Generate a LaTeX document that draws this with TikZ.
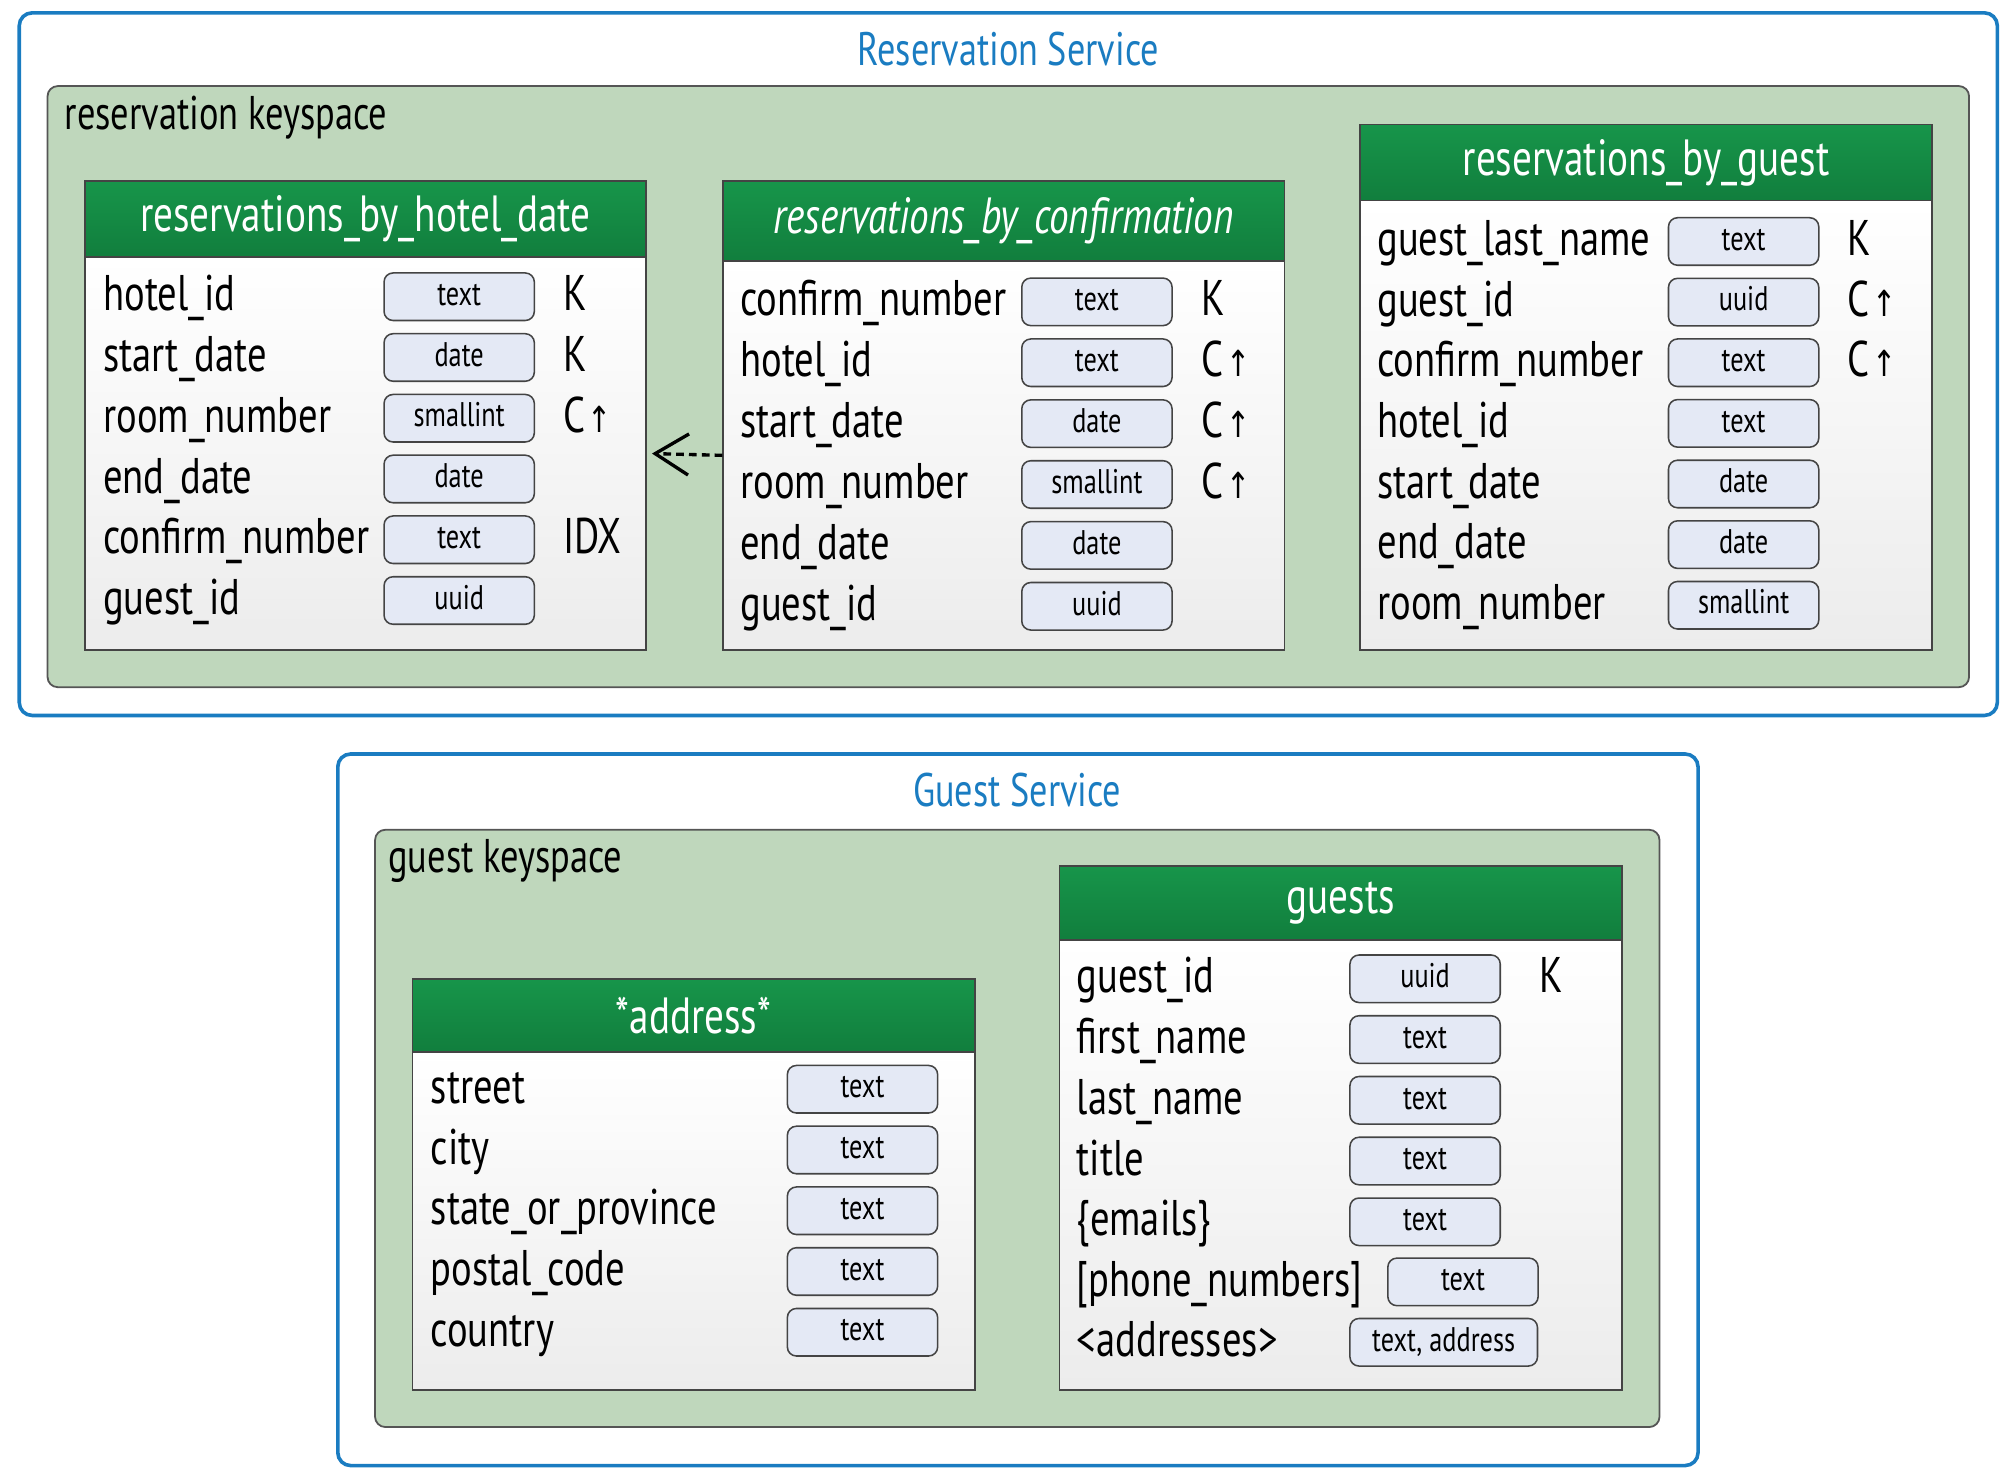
\documentclass[tikz,border=0pt]{standalone}
\usepackage{fontspec}
\setmainfont{PT Sans}[FakeStretch=0.77]
\newfontfamily\symfont{DejaVu Sans}[FakeStretch=0.8]
\usetikzlibrary{fit,arrows.meta}

\definecolor{svcblue}{HTML}{1A7CC1}
\definecolor{ksgreen}{HTML}{BFD7BC}
\definecolor{ksline}{HTML}{555555}
\definecolor{hdrtop}{HTML}{17954A}
\definecolor{hdrbot}{HTML}{117E3D}
\definecolor{frame}{HTML}{444444}
\definecolor{bodybot}{HTML}{ECECEC}
\definecolor{typfill}{HTML}{E4E9F5}

\newcommand\up{\kern1pt{\symfont\fontsize{14}{14}\selectfont ↑}}

\tikzset{
  svc/.style={draw=svcblue, line width=1.4pt, rounded corners=5pt, inner sep=0},
  svctitle/.style={text=svcblue, font=\fontsize{18.3}{20}\selectfont, inner sep=0},
  keyspace/.style={draw=ksline, fill=ksgreen, line width=0.7pt, rounded corners=4pt, inner sep=0},
  kstitle/.style={anchor=base west, font=\fontsize{18.4}{20}\selectfont, inner sep=0},
  tbody/.style={draw=frame, line width=0.6pt, top color=white, bottom color=bodybot, inner sep=0},
  thead/.style={draw=frame, line width=0.6pt, top color=hdrtop, bottom color=hdrbot, inner sep=0},
  theadtext/.style={text=white, font=\fontsize{19.8}{22}\selectfont, inner sep=0},
  fld/.style={anchor=base west, font=\fontsize{19.5}{22}\selectfont, inner sep=0},
  typ/.style={draw=frame, fill=typfill, line width=0.6pt, rounded corners=3.5pt,
    minimum width=58.5pt, minimum height=18.5pt, inner sep=0,
    text height=8.8pt, text depth=2pt, font=\fontsize{13.3}{15}\selectfont},
  keytag/.style={anchor=base west, font=\fontsize{19.5}{22}\selectfont, inner sep=0},
  link/.style={dashed, dash pattern=on 3pt off 2pt, line width=1.3pt,
    -{Straight Barb[length=13pt, width=16pt, line width=1.3pt]}},
}

\begin{document}
\begin{tikzpicture}[x=0.5pt, y=-0.5pt]
\useasboundingbox (0,0) rectangle (1568,1153);

% ---------------- Reservation Service ----------------
\node[svc, fit={(15,10)(1555,557)}] (rsvc) {};
\node[svctitle] (rsvct) at (785,38) {Reservation Service};
\node[keyspace, fit={(37,67)(1533,535)}] (rks) {};
\node[kstitle] (rkst) at (50,101) {reservation keyspace};

% reservations_by_hotel_date
\node[tbody, fit={(66,200)(503,506)}] (b1) {};
\node[thead, fit={(66,141)(503,200)}] (h1) {};
\node[theadtext] (h1t) at (h1.center) {reservations\_by\_hotel\_date};
\foreach \f/\t/\k [count=\i] in {hotel\_id/text/K, start\_date/date/K,
    room\_number/smallint/C\up, end\_date/date/{}, confirm\_number/text/IDX,
    guest\_id/uuid/{}} {
  \pgfmathsetmacro\yy{231+47.3*(\i-1)}
  \node[fld] (b1f\i) at (80,\yy+11) {\f};
  \node[typ] (b1t\i) at (357.5,\yy) {\t};
  \node[keytag] (b1k\i) at (438,\yy+11) {\k};
}

% reservations_by_confirmation
\node[tbody, fit={(563,203)(1000,506)}] (b2) {};
\node[thead, fit={(563,141)(1000,203)}] (h2) {};
\node[theadtext] (h2t) at (h2.center) {\itshape reservations\_by\_confirmation};
\foreach \f/\t/\k [count=\i] in {confirm\_number/text/K, hotel\_id/text/C\up,
    start\_date/date/C\up, room\_number/smallint/C\up, end\_date/date/{},
    guest\_id/uuid/{}} {
  \pgfmathsetmacro\yy{235+47.4*(\i-1)}
  \node[fld] (b2f\i) at (576,\yy+11) {\f};
  \node[typ] (b2t\i) at (854,\yy) {\t};
  \node[keytag] (b2k\i) at (935,\yy+11) {\k};
}

% reservations_by_guest
\node[tbody, fit={(1059,156)(1504,506)}] (b3) {};
\node[thead, fit={(1059,97)(1504,156)}] (h3) {};
\node[theadtext] (h3t) at (h3.center) {reservations\_by\_guest};
\foreach \f/\t/\k [count=\i] in {guest\_last\_name/text/K, guest\_id/uuid/C\up,
    confirm\_number/text/C\up, hotel\_id/text/{}, start\_date/date/{},
    end\_date/date/{}, room\_number/smallint/{}} {
  \pgfmathsetmacro\yy{188+47.2*(\i-1)}
  \node[fld] (b3f\i) at (1072,\yy+11) {\f};
  \node[typ] (b3t\i) at (1357.5,\yy) {\t};
  \node[keytag] (b3k\i) at (1438,\yy+11) {\k};
}

% lookup table points back to the main table
\draw[link, shorten >=2pt] (b2.west) -- (b1.east);

% ---------------- Guest Service ----------------
\node[svc, fit={(263,587)(1322,1141)}] (gsvc) {};
\node[svctitle] (gsvct) at (792,615) {Guest Service};
\node[keyspace, fit={(292,646)(1292,1111)}] (gks) {};
\node[kstitle] (gkst) at (302,679) {guest keyspace};

% address user-defined type
\node[tbody, fit={(321,819)(759,1082)}] (b4) {};
\node[thead, fit={(321,762)(759,819)}] (h4) {};
\node[theadtext] (h4t) at (h4.center) {*address*};
\foreach \f/\t [count=\i] in {street/text, city/text, state\_or\_province/text,
    postal\_code/text, country/text} {
  \pgfmathsetmacro\yy{848+47.3*(\i-1)}
  \node[fld] (b4f\i) at (335,\yy+11) {\f};
  \node[typ] (b4t\i) at (671.5,\yy) {\t};
}

% guests
\node[tbody, fit={(825,732)(1263,1082)}] (b5) {};
\node[thead, fit={(825,674)(1263,732)}] (h5) {};
\node[theadtext] (h5t) at (h5.center) {guests};
\foreach \f/\t [count=\i] in {guest\_id/uuid, first\_name/text, last\_name/text,
    title/text, \{emails\}/text} {
  \pgfmathsetmacro\yy{762+47.3*(\i-1)}
  \node[fld] (b5f\i) at (838,\yy+11) {\f};
  \node[typ] (b5t\i) at (1109.5,\yy) {\t};
}
\node[keytag] (b5k1) at (1198,773) {K};
\node[fld] (b5f6) at (838,1009) {[phone\_numbers]};
\node[typ] (b5t6) at (1139,998) {text};
\node[fld] (b5f7) at (838,1056) {<addresses>};
\node[typ, minimum width=73pt] (b5t7) at (1124,1045) {text, address};
\end{tikzpicture}
\end{document}
